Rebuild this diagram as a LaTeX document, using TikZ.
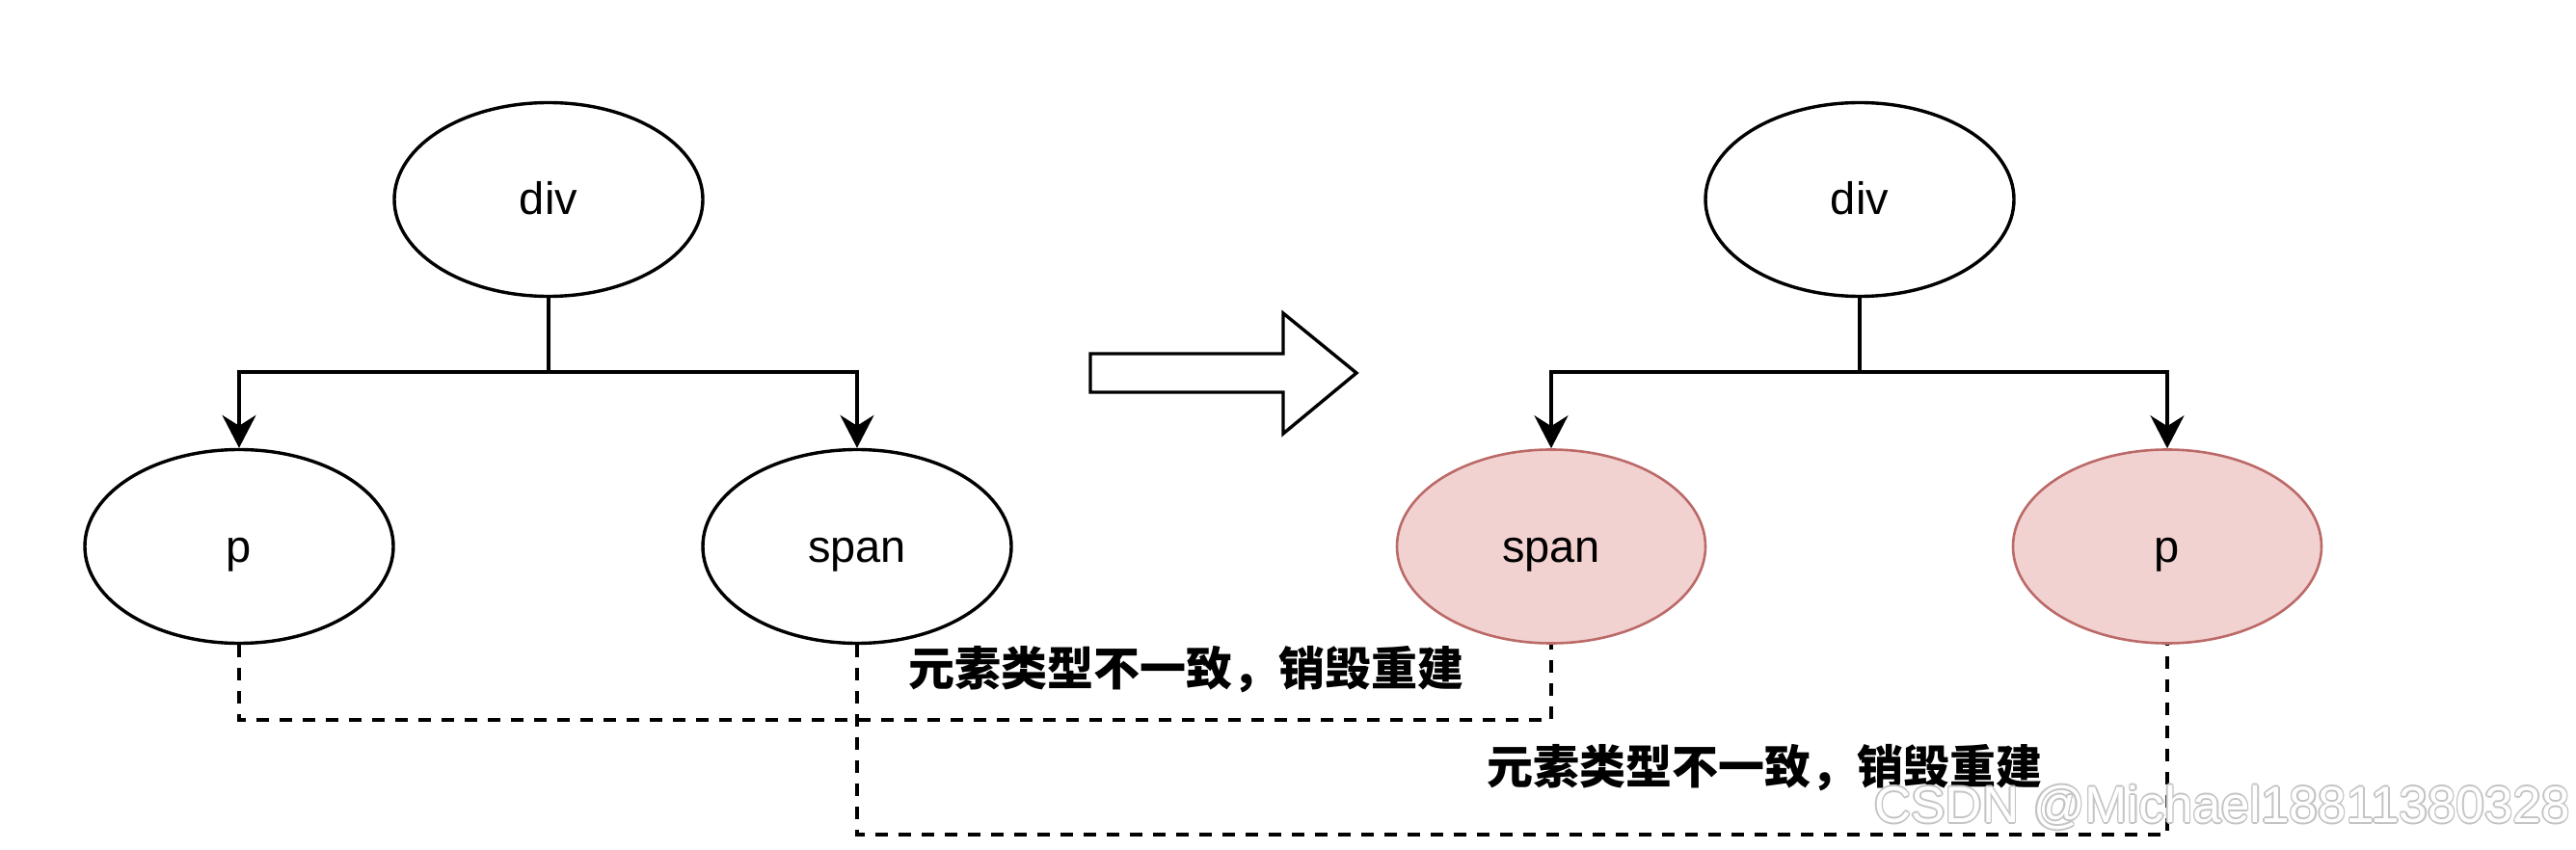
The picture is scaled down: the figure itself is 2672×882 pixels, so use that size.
\documentclass[tikz,border=0pt]{standalone}
\usepackage{fontspec}
\setmainfont{Liberation Sans}
\newfontfamily\cjk{Noto Sans CJK SC}
\usetikzlibrary{arrows.meta,shapes.geometric}
\definecolor{pinkfill}{HTML}{F2D2D1}
\definecolor{pinkline}{HTML}{BB6A68}
\definecolor{wmgray}{HTML}{C4C4C4}
\tikzset{
  el/.style={ellipse, draw=black, line width=3.4pt, minimum width=320pt, minimum height=201pt, inner sep=0pt, text height=36pt, text depth=4pt, font=\fontsize{47}{56}\selectfont},
  elred/.style={el, draw=pinkline, line width=2.6pt, fill=pinkfill},
  conn/.style={line width=3.4pt, -{Stealth[length=34pt,width=35pt,inset=11pt]}},
  trunk/.style={line width=3.4pt},
  dashline/.style={line width=3.6pt, dash pattern=on 13pt off 11pt},
  lbl/.style={font=\cjk\bfseries\fontsize{48}{56}\selectfont, inner sep=0pt},
  wm/.style={anchor=west, inner sep=0pt, font=\fontsize{53}{60}\selectfont},
}
\begin{document}
\begin{tikzpicture}[x=1pt,y=-1pt]
\useasboundingbox (0,0) rectangle (2672,882);
% left tree
\node[el] (d1) at (569,207) {div};
\node[el] (p1) at (248,567) {p};
\node[el] (s1) at (889,567) {span};
\coordinate (j1) at (569,386);
\draw[trunk] (d1.south) -- (j1);
\draw[conn] (j1) -| (p1.north);
\draw[conn] (j1) -| (s1.north);
% right tree
\node[el] (d2) at (1929,207) {div};
\node[elred] (s2) at (1609,567) {span};
\node[elred] (p2) at (2248,567) {p};
\coordinate (j2) at (1929,386);
\draw[trunk] (d2.south) -- (j2);
\draw[conn] (j2) -| (s2.north);
\draw[conn] (j2) -| (p2.north);
% block arrow
\draw[line width=3.4pt, line join=miter] (1131,367) -- (1331,367) -- (1331,325) -- (1407,387) -- (1331,450) -- (1331,407) -- (1131,407) -- cycle;
% dashed correspondences
\coordinate (a1) at (248,747);
\coordinate (a2) at (1609,747);
\draw[dashline] (p1.south) -- (a1) -- (a2) -- (s2.south);
\coordinate (b1) at (889,866);
\coordinate (b2) at (2248,866);
\draw[dashline] (s1.south) -- (b1) -- (b2) -- (p2.south);
% labels
\node[lbl, anchor=west] (t1) at (942,695) {元素类型不一致，销毁重建};
\node[lbl, anchor=west] (t2) at (1542,797) {元素类型不一致，销毁重建};
% watermark (outlined text)
\foreach \dx/\dy [count=\i] in {-1.6/0,1.6/0,0/-1.6,0/1.6,-1.1/-1.1,1.1/1.1,-1.1/1.1,1.1/-1.1}{
  \node[wm, text=wmgray] (wmo\i) at (1944+\dx,838+\dy) {CSDN @Michael18811380328};
}
\node[wm, text=white] (wm) at (1944,838) {CSDN @Michael18811380328};
\end{tikzpicture}
\end{document}
